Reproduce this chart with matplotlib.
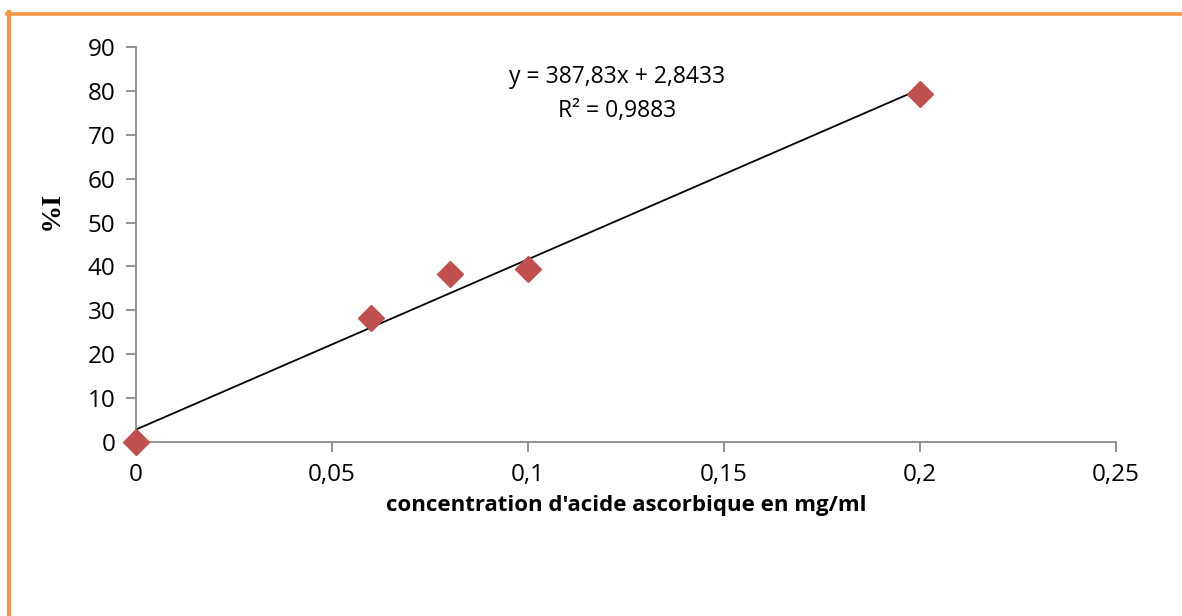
import matplotlib.pyplot as plt
from matplotlib.lines import Line2D
import numpy as np

# concentration (mg/ml) vs inhibition (%)
conc = [0, 0.06, 0.08, 0.1, 0.2]
inhib = [0, 28.3, 38.3, 39.4, 79.3]

slope = 387.83
intercept = 2.8433
r2 = 0.9883

xticks = [0, 0.05, 0.1, 0.15, 0.2, 0.25]
xtick_labels = ['0', '0,05', '0,1', '0,15', '0,2', '0,25']
yticks = list(range(0, 100, 10))

fig = plt.figure(figsize=(11.82, 6.16), dpi=100)
ax = fig.add_axes([0.1151, 0.2825, 0.8291, 0.6412])

# linear trendline
xl = np.array([conc[0], conc[-1]])
ax.plot(xl, slope * xl + intercept, color='black', lw=1.3, zorder=2)

ax.plot(conc, inhib, ls='none', marker='D', ms=13, color='#C0504D',
        markeredgecolor='#C0504D', zorder=3, clip_on=False)

ax.set_xlim(0, 0.25)
ax.set_ylim(0, 90)
ax.set_xticks(xticks)
ax.set_xticklabels(xtick_labels)
ax.set_yticks(yticks)

for s in ['top', 'right']:
    ax.spines[s].set_visible(False)
for s in ['left', 'bottom']:
    ax.spines[s].set_color('#8a8a8a')
    ax.spines[s].set_linewidth(1.3)
ax.tick_params(axis='both', color='#8a8a8a', width=1.3, length=7,
               labelsize=17.5, direction='out')
ax.tick_params(axis='x', pad=8)
ax.tick_params(axis='y', pad=8)
for lab in ax.get_xticklabels() + ax.get_yticklabels():
    lab.set_family('Open Sans')

ax.set_xlabel("concentration d'acide ascorbique en mg/ml", fontsize=16,
              fontweight='bold', family='Open Sans', labelpad=6)

fig.text(47 / 1182, 1 - 214 / 616, 'I%', rotation=270, ha='center', va='center',
         fontsize=20, fontweight='bold', family='Liberation Serif')

ax.text(0.1227, 79.3, 'y = 387,83x + 2,8433\nR² = 0,9883',
        ha='center', va='center', fontsize=16.5, family='Open Sans',
        linespacing=1.55)

# orange frame on the left and top
orange = '#F79646'
fig.add_artist(Line2D([9 / 1182, 9 / 1182], [0, 1 - 12 / 616],
                      transform=fig.transFigure, color=orange, lw=3))
fig.add_artist(Line2D([7 / 1182, 1], [1 - 14 / 616, 1 - 14 / 616],
                      transform=fig.transFigure, color=orange, lw=2.6))

fig.savefig('out.png', dpi=100)
